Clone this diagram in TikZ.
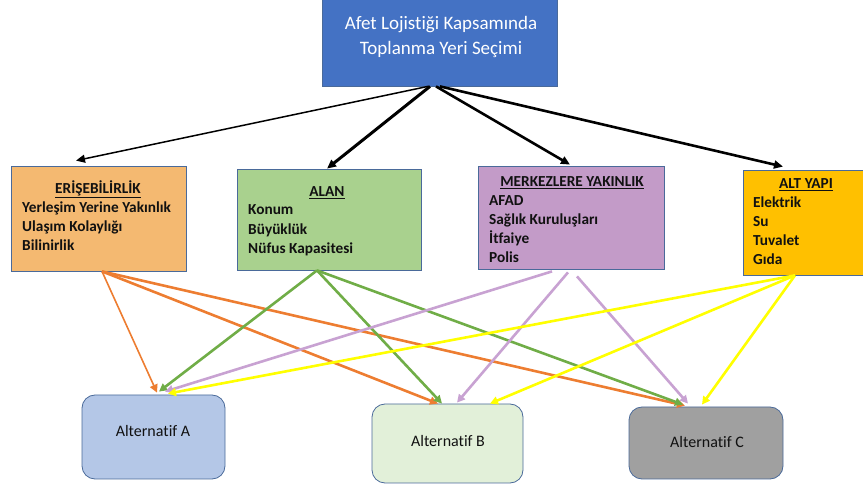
\documentclass[tikz,border=0pt]{standalone}
\usepackage{fontspec}
\setmainfont[Ligatures=NoCommon]{Carlito}
\usetikzlibrary{arrows.meta}
\definecolor{topblue}{HTML}{4472C4}
\definecolor{edge}{HTML}{4A6A9A}
\definecolor{c1}{HTML}{F4B971}
\definecolor{c2}{HTML}{A9D18E}
\definecolor{c3}{HTML}{C39BC8}
\definecolor{c4}{HTML}{FFC000}
\definecolor{cA}{HTML}{B4C7E7}
\definecolor{cB}{HTML}{E2F0D9}
\definecolor{cC}{HTML}{A0A0A0}
\definecolor{aor}{HTML}{ED7D31}
\definecolor{agr}{HTML}{70AD47}
\definecolor{apu}{HTML}{C8A2D2}
\definecolor{aye}{HTML}{FFFF00}
\definecolor{txt}{HTML}{111111}
\tikzset{
  box/.style={draw=edge, line width=0.8pt, inner sep=0pt},
  alt/.style={box, rounded corners=13pt},
  ttl/.style={anchor=mid, inner sep=0pt, text=txt, font=\fontsize{15.3}{19}\selectfont\bfseries},
  itm/.style={anchor=mid west, inner sep=0pt, text=txt, font=\fontsize{15.3}{19}\selectfont\bfseries},
  alttxt/.style={anchor=mid, inner sep=0pt, text=txt, font=\fontsize{16}{19}\selectfont},
  blk/.style={draw=black, -{Triangle[length=9pt,width=8pt]}},
  col/.style={line width=2.6pt, -{Triangle[length=8pt,width=8pt]}},
}
\begin{document}
\begin{tikzpicture}[x=1pt,y=-1pt]
\useasboundingbox (0,0) rectangle (863,486);
% top box
\node[box, fill=topblue, minimum width=235, minimum height=90] (top) at (439.5,41) {};
\node[align=center, text=white, inner sep=0pt, font=\fontsize{19}{24.5}\selectfont] (toptxt) at (441,37) {Afet Lojistiği Kapsamında\\Toplanma Yeri Seçimi};
% criteria boxes
\node[box, fill=c1, minimum width=175, minimum height=105] (ers) at (98.5,218.5) {};
\node[box, fill=c2, minimum width=184, minimum height=101] (alan) at (329,219.5) {};
\node[box, fill=c3, minimum width=186, minimum height=103] (mrk) at (571,217.5) {};
\node[box, fill=c4, minimum width=140, minimum height=105] (alt) at (813,222.5) {};
% texts
\node[ttl] (ers0) at (98,191) {\underline{ERİŞEBİLİRLİK}};
\node[itm] (ers1) at (22,210) {Yerleşim Yerine Yakınlık};
\node[itm] (ers2) at (22,229) {Ulaşım Kolaylığı};
\node[itm] (ers3) at (22,248) {Bilinirlik};
\node[ttl] (alan0) at (327,194) {\underline{ALAN}};
\node[itm] (alan1) at (248,212) {Konum};
\node[itm] (alan2) at (248,232) {Büyüklük};
\node[itm] (alan3) at (248,251) {Nüfus Kapasitesi};
\node[ttl] (mrk0) at (572,184) {\underline{MERKEZLERE YAKINLIK}};
\node[itm] (mrk1) at (489,203) {AFAD};
\node[itm] (mrk2) at (489,222) {Sağlık Kuruluşları};
\node[itm] (mrk3) at (489,241) {İtfaiye};
\node[itm] (mrk4) at (489,260) {Polis};
\node[ttl] (alt0) at (806,186) {\underline{ALT YAPI}};
\node[itm] (alt1) at (753,205) {Elektrik};
\node[itm] (alt2) at (753,224) {Su};
\node[itm] (alt3) at (753,243) {Tuvalet};
\node[itm] (alt4) at (753,262) {Gıda};
% alternatives
\node[alt, fill=cA, minimum width=143, minimum height=84] (A) at (153.5,437) {};
\node[alt, fill=cB, minimum width=151, minimum height=79] (B) at (447.5,443.5) {};
\node[alt, fill=cC, minimum width=154, minimum height=72] (C) at (706,443) {};
\node[alttxt] (At) at (153,434) {Alternatif A};
\node[alttxt] (Bt) at (448,444) {Alternatif B};
\node[alttxt] (Ct) at (707,445) {Alternatif C};
% black arrows
\draw[blk, line width=1.5pt] ([xshift=-11.5pt]top.south) -- ([xshift=-22.5pt,yshift=5pt]ers.north);
\draw[blk, line width=3pt] ([xshift=-9.5pt]top.south) -- ([xshift=-2pt]alan.north);
\draw[blk, line width=2.6pt] ([xshift=-3.5pt]top.south) -- ([xshift=-1pt,yshift=1pt]mrk.north);
\draw[blk, line width=2.6pt] ([xshift=0.5pt]top.south) -- ([xshift=-30pt,yshift=3pt]alt.north);
% orange
\draw[col, draw=aor, fill=aor, line width=1.6pt] ([xshift=3.5pt]ers.south) -- ([xshift=3.5pt,yshift=2pt]A.north);
\draw[col, draw=aor, fill=aor] ([xshift=3.5pt]ers.south) -- ([xshift=-9.5pt]B.north);
\draw[col, draw=aor, fill=aor] ([xshift=3.5pt]ers.south) -- ([xshift=-21pt,yshift=1pt]C.north);
% green
\draw[col, draw=agr, fill=agr] ([xshift=-12pt]alan.south) -- ([xshift=5.5pt,yshift=3pt]A.north);
\draw[col, draw=agr, fill=agr] ([xshift=-12pt]alan.south) -- ([xshift=-5.5pt]B.north);
\draw[col, draw=agr, fill=agr] ([xshift=-12pt]alan.south) -- ([xshift=-23pt,yshift=2pt]C.north);
% purple
\draw[col, draw=apu, fill=apu] ([xshift=-19pt,yshift=-2pt]mrk.south) -- ([xshift=11.5pt,yshift=3pt]A.north);
\draw[col, draw=apu, fill=apu] ([xshift=-3pt,yshift=-3pt]mrk.south) -- ([xshift=9.5pt,yshift=1pt]B.north);
\draw[col, draw=apu, fill=apu] ([xshift=6pt,yshift=-7pt]mrk.south) -- ([xshift=-18pt,yshift=3pt]C.north);
% yellow
\draw[col, draw=aye, fill=aye] ([xshift=-18pt]alt.south) -- ([xshift=14.5pt,yshift=1pt]A.north);
\draw[col, draw=aye, fill=aye] ([xshift=-18pt]alt.south) -- ([xshift=42.5pt]B.north);
\draw[col, draw=aye, fill=aye] ([xshift=-18pt]alt.south) -- ([xshift=-4pt,yshift=2pt]C.north);
\end{tikzpicture}
\end{document}
